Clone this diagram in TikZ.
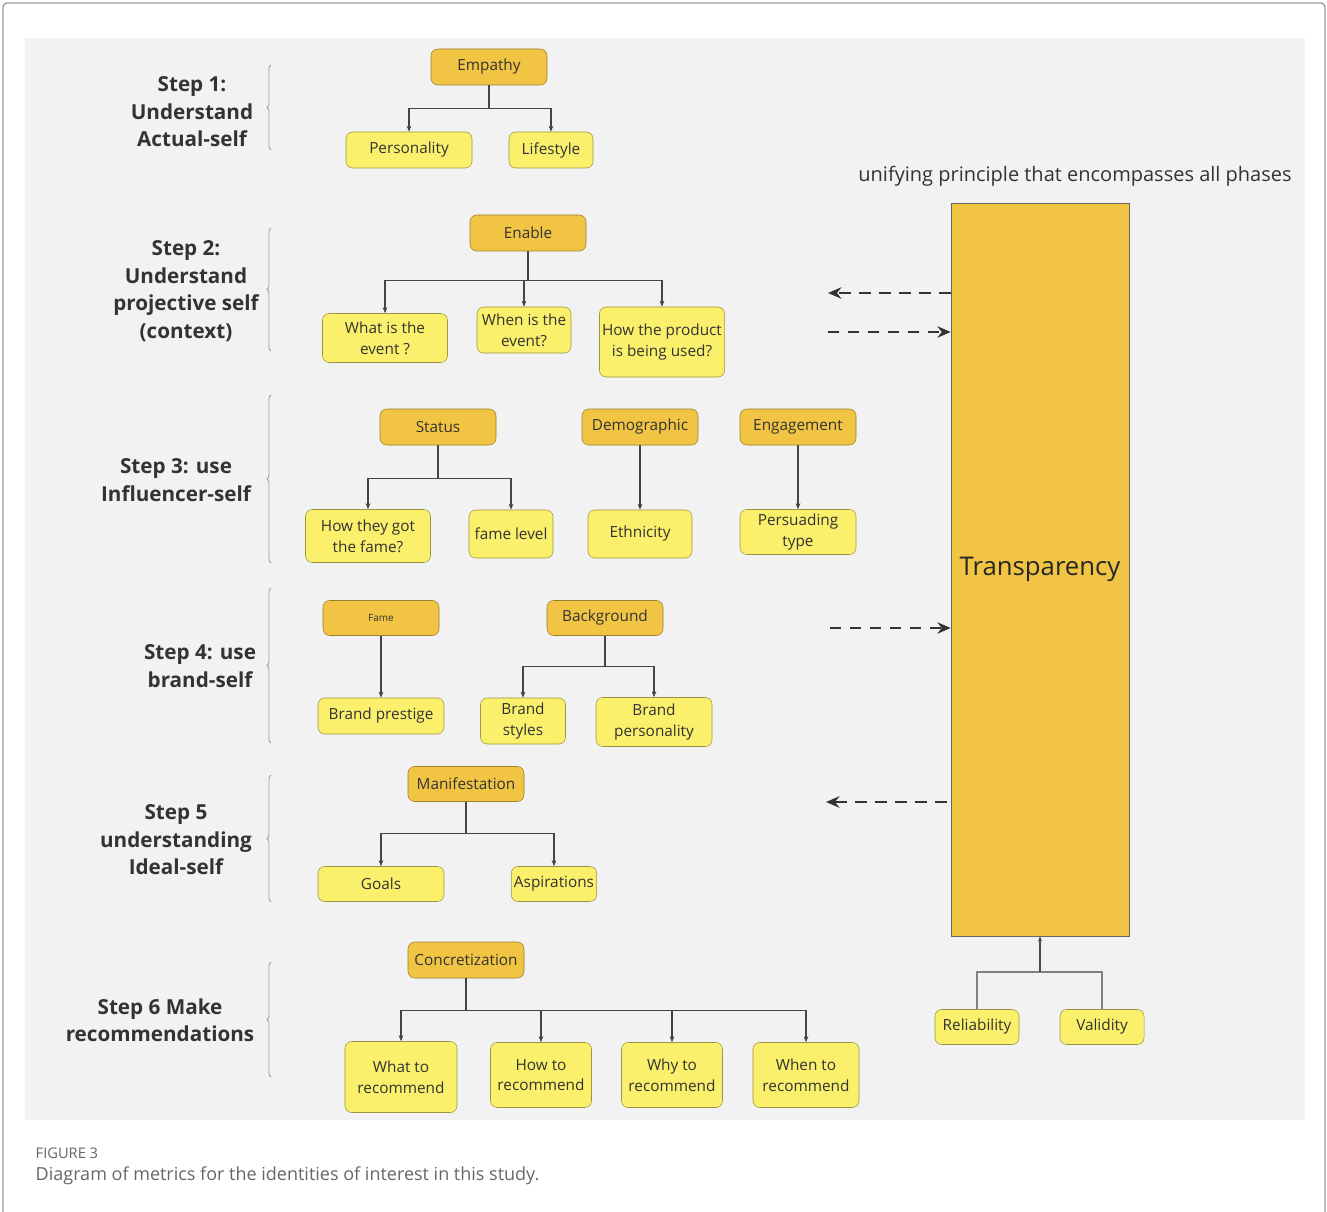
\documentclass[tikz,border=0pt]{standalone}
\usepackage{fontspec}
\setmainfont{Open Sans}
\usetikzlibrary{
		positioning,
		arrows.meta,
		decorations.pathreplacing
	}
\definecolor{panel}{HTML}{F2F2F2}
\definecolor{boxdark}{HTML}{F2C443}
\definecolor{edgedark}{HTML}{9A7F2E}
\definecolor{boxlight}{HTML}{FAF06B}
\definecolor{edgelight}{HTML}{9C9440}
\definecolor{ink}{HTML}{333333}
\definecolor{linkgray}{HTML}{444444}
\definecolor{captiongray}{HTML}{666666}
\newcommand{\boxfont}{\fontsize{11.5}{15.5}\selectfont}
\newcommand{\stepfont}{\fontsize{15.5}{20.6}\selectfont\bfseries}
\tikzset{
		>=stealth,
		headbox/.style={draw=edgedark, fill=boxdark, rounded corners=5pt, align=center, inner sep=2pt, text=ink, font=\boxfont},
		leafbox/.style={draw=edgelight, fill=boxlight, rounded corners=5pt, align=center, inner sep=2pt, text=ink, font=\boxfont},
		sz/.style 2 args={minimum width=#1*0.75pt, minimum height=#2*0.75pt},
		steplabel/.style={align=center, text=ink, font=\stepfont},
		link/.style={-{Stealth[length=4.5pt,width=3.5pt]}, draw=linkgray, line width=0.8pt},
		dasharr/.style={-{Stealth[length=10pt,width=8.5pt]}, draw=ink, line width=2pt, dash pattern=on 8.5pt off 6.5pt},
		bracket/.style={decorate, decoration={brace, amplitude=3pt}, draw=gray!75, line width=0.6pt}
	}

\begin{document}
\begin{tikzpicture}[x=0.75pt, y=-0.75pt]
		\useasboundingbox (0,0) rectangle (1327,1212);
		\draw[gray!80, line width=1pt, rounded corners=3pt] (3,3) rectangle (1325,1240);
		\fill[panel] (25,38) rectangle (1305,1120);

		% step labels and braces
		\node[steplabel] (s1) at (192,112) {Step 1:\\Understand\\Actual-self};
		\node[steplabel] (s2) at (186,291) {Step 2:\\Understand\\projective self\\(context)};
		\node[steplabel] (s3) at (176,480) {Step 3: use\\Influencer-self};
		\node[steplabel] (s4) at (200,666) {Step 4: use\\brand-self};
		\node[steplabel] (s5) at (176,840) {Step 5\\understanding\\Ideal-self};
		\node[steplabel] (s6) at (160,1020) {Step 6 Make\\recommendations};
		\draw[bracket] (271,150) -- (271,65);
		\draw[bracket] (271,351) -- (271,228);
		\draw[bracket] (271,563) -- (271,395);
		\draw[bracket] (271,743) -- (271,588);
		\draw[bracket] (271,902) -- (271,775);
		\draw[bracket] (271,1077) -- (271,962);

		% step 1
		\node[headbox, sz={116}{36}] (emp) at (489,67) {Empathy};
		\node[leafbox, sz={126}{36}] (pers) at (409,150) {Personality};
		\node[leafbox, sz={84}{36}] (life) at (551,150) {Lifestyle};
		\foreach \c in {pers,life} \draw[link] (emp.south) -- +(0,23) -| (\c.north);

		% step 2
		\node[headbox, sz={116}{36}] (enab) at (528,233) {Enable};
		\node[leafbox, sz={125}{49}] (what) at (385,338) {What is the\\event ?};
		\node[leafbox, sz={94}{46}] (when) at (524,330) {When is the\\event?};
		\node[leafbox, sz={125}{70}] (how) at (662,342) {How the product\\is being used?};
		\foreach \c in {what,when,how} \draw[link] (enab.south) -- +(0,29) -| (\c.north);

		% step 3
		\node[headbox, sz={116}{36}] (stat) at (438,427) {Status};
		\node[leafbox, sz={125}{53}] (got) at (368,536) {How they got\\the fame?};
		\node[leafbox, sz={84}{48}] (flev) at (511,534) {fame level};
		\foreach \c in {got,flev} \draw[link] (stat.south) -- +(0,33) -| (\c.north);
		\node[headbox, sz={116}{36}] (demo) at (640,427) {Demographic};
		\node[leafbox, sz={104}{48}] (eth) at (640,534) {Ethnicity};
		\draw[link] (demo) -- (eth);
		\node[headbox, sz={116}{36}] (enga) at (798,427) {Engagement};
		\node[leafbox, sz={116}{45}] (pers2) at (798,532) {Persuading\\type};
		\draw[link] (enga) -- (pers2);

		% step 4
		\node[headbox, sz={116}{35}, font=\fontsize{7.5}{9}\selectfont] (fame) at (381,618) {Fame};
		\node[leafbox, sz={126}{36}] (pres) at (381,716) {Brand prestige};
		\draw[link] (fame) -- (pres);
		\node[headbox, sz={116}{35}] (back) at (605,618) {Background};
		\node[leafbox, sz={85}{46}] (styl) at (523,721) {Brand\\styles};
		\node[leafbox, sz={116}{49}] (bper) at (654,722) {Brand\\personality};
		\foreach \c in {styl,bper} \draw[link] (back.south) -- +(0,31) -| (\c.north);

		% step 5
		\node[headbox, sz={116}{35}] (mani) at (466,784) {Manifestation};
		\node[leafbox, sz={126}{35}] (goal) at (381,884) {Goals};
		\node[leafbox, sz={85}{35}] (aspi) at (554,884) {Aspirations};
		\foreach \c in {goal,aspi} \draw[link] (mani.south) -- +(0,32) -| (\c.north);

		% step 6
		\node[headbox, sz={116}{36}] (conc) at (466,960) {Concretization};
		\node[leafbox, sz={112}{71}] (rwhat) at (401,1077) {What to\\recommend};
		\node[leafbox, sz={101}{65}] (rhow) at (541,1075) {How to\\recommend};
		\node[leafbox, sz={101}{65}] (rwhy) at (672,1075) {Why to\\recommend};
		\node[leafbox, sz={106}{65}] (rwhen) at (806,1075) {When to\\recommend};
		\foreach \c in {rwhat,rhow,rwhy,rwhen} \draw[link] (conc.south) -- +(0,32) -| (\c.north);

		% transparency column
		\node[ink, font=\fontsize{15}{18}\selectfont] (unif) at (1075,176) {unifying principle that encompasses all phases};
		\node[draw=gray!80!black, fill=boxdark, sz={178}{733}, inner sep=0pt, text=black!85, font=\fontsize{19.3}{23}\selectfont] (trans) at (1040,569.5) {Transparency};
		\coordinate (d1) at (828,293);
		\coordinate (d2) at (828,332);
		\coordinate (d3) at (830,628);
		\coordinate (d4) at (826,802);
		\draw[dasharr] (trans.west |- d1) -- (d1);
		\draw[dasharr] (d2) -- (trans.west |- d2);
		\draw[dasharr] (d3) -- (trans.west |- d3);
		\draw[dasharr] (trans.west |- d4) ++(-4,0) -- (d4);
		\node[leafbox, sz={84}{35}] (reli) at (977,1027) {Reliability};
		\node[leafbox, sz={84}{35}] (vali) at (1102,1027) {Validity};
		\coordinate (join) at (1040,972);
		\draw[gray, line width=0.8pt] (reli.north) |- (join) -| (vali.north);
		\draw[-{Stealth[length=4pt,width=3pt]}, gray!60!black, line width=0.8pt] (join) -- (trans.south);

		% caption
		\node[anchor=west, text=captiongray, font=\fontsize{11}{13}\selectfont] (fig) at (31,1153) {FIGURE 3};
		\node[anchor=west, text=captiongray, font=\fontsize{13.5}{16}\selectfont] (capt) at (31,1176) {Diagram of metrics for the identities of interest in this study.};
	\end{tikzpicture}
\end{document}
